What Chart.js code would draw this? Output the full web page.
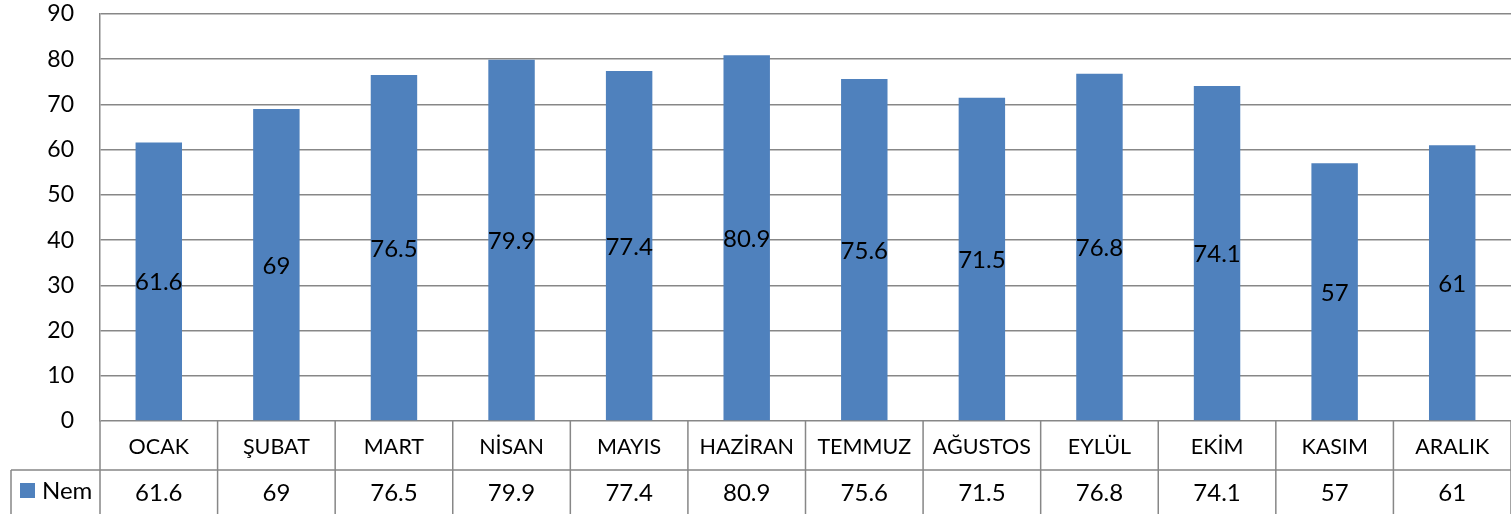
<!DOCTYPE html>
<html>
<head>
<meta charset="utf-8">
<script src="https://cdn.jsdelivr.net/npm/chart.js@4/dist/chart.umd.min.js"></script>
<style>
  html, body { margin: 0; padding: 0; background: #fff; }
  #wrap { width: 1511px; height: 514px; position: relative; }
</style>
</head>
<body>
<div id="wrap"><canvas id="c"></canvas></div>
<script>
// Monthly humidity values (Nem)
const months = ['OCAK', 'ŞUBAT', 'MART', 'NİSAN', 'MAYIS', 'HAZİRAN', 'TEMMUZ', 'AĞUSTOS', 'EYLÜL', 'EKİM', 'KASIM', 'ARALIK'];
const nem = [61.6, 69, 76.5, 79.9, 77.4, 80.9, 75.6, 71.5, 76.8, 74.1, 57, 61];
const seriesName = 'Nem';
const yTicks = [0, 10, 20, 30, 40, 50, 60, 70, 80, 90];

const FONT = 'Lato, "Open Sans", "DejaVu Sans", sans-serif';
const LINE = '#878787';
const BAR = '#4f81bd';
const fmt = v => String(v);

// Value labels centred inside each bar
const barLabels = {
  id: 'barLabels',
  afterDatasetsDraw(chart) {
    const ctx = chart.ctx;
    const meta = chart.getDatasetMeta(0);
    ctx.save();
    ctx.font = '24px ' + FONT;
    ctx.fillStyle = '#000';
    ctx.textAlign = 'center';
    ctx.textBaseline = 'alphabetic';
    meta.data.forEach((bar, i) => {
      ctx.fillText(fmt(nem[i]), bar.x, (bar.y + bar.base) / 2 + 9);
    });
    ctx.restore();
  }
};

// Category row and data table under the plot
const dataTable = {
  id: 'dataTable',
  afterDraw(chart) {
    const ctx = chart.ctx;
    const xs = chart.scales.x;
    const area = chart.chartArea;
    const top = area.bottom;
    const mid = top + 49;
    const bottom = chart.height;
    const n = months.length;
    const step = (area.right - area.left) / n;
    const legendLeft = 11;

    ctx.save();
    ctx.strokeStyle = LINE;
    ctx.lineWidth = 1.5;
    ctx.beginPath();
    // row separator
    ctx.moveTo(legendLeft, mid); ctx.lineTo(area.right, mid);
    // legend cell left border
    ctx.moveTo(legendLeft, mid); ctx.lineTo(legendLeft, bottom);
    // column separators
    for (let k = 0; k <= n; k++) {
      const x = area.left + k * step;
      ctx.moveTo(x, top); ctx.lineTo(x, bottom);
    }
    ctx.stroke();

    ctx.fillStyle = '#000';
    ctx.textAlign = 'center';
    ctx.textBaseline = 'alphabetic';
    months.forEach((m, i) => {
      const x = xs.getPixelForValue(i);
      ctx.font = '21.5px ' + FONT;
      ctx.fillText(m, x, top + 32.5);
      ctx.font = '24px ' + FONT;
      ctx.fillText(fmt(nem[i]), x, mid + 31);
    });

    // legend key
    ctx.fillStyle = BAR;
    ctx.fillRect(20, mid + 13, 15, 15);
    ctx.fillStyle = '#000';
    ctx.textAlign = 'left';
    ctx.font = '24px ' + FONT;
    ctx.fillText(seriesName, 42, mid + 28.5);
    ctx.restore();
  }
};

new Chart(document.getElementById('c'), {
  type: 'bar',
  data: {
    labels: months,
    datasets: [{
      label: seriesName,
      data: nem,
      backgroundColor: BAR,
      borderWidth: 0,
      categoryPercentage: 1,
      barPercentage: 0.395
    }]
  },
  options: {
    responsive: true,
    maintainAspectRatio: false,
    animation: false,
    layout: { padding: { top: 14, left: 0, right: 0, bottom: 0 } },
    plugins: { legend: { display: false }, tooltip: { enabled: false } },
    scales: {
      x: {
        grid: { display: false },
        border: { display: false },
        ticks: { display: false },
        afterFit(scale) { scale.height = 93; scale.paddingLeft = 0; scale.paddingRight = 0; }
      },
      y: {
        min: 0,
        max: 90,
        afterBuildTicks(scale) { scale.ticks = yTicks.map(v => ({ value: v })); },
        grid: { color: LINE, lineWidth: 1.5, drawTicks: false },
        border: { display: true, color: LINE, width: 1.5 },
        ticks: {
          padding: 26,
          color: '#000',
          font: { family: FONT, size: 23 }
        },
        afterFit(scale) { scale.width = 100; scale.paddingTop = 0; scale.paddingBottom = 0; }
      }
    }
  },
  plugins: [barLabels, dataTable]
});
</script>
</body>
</html>
